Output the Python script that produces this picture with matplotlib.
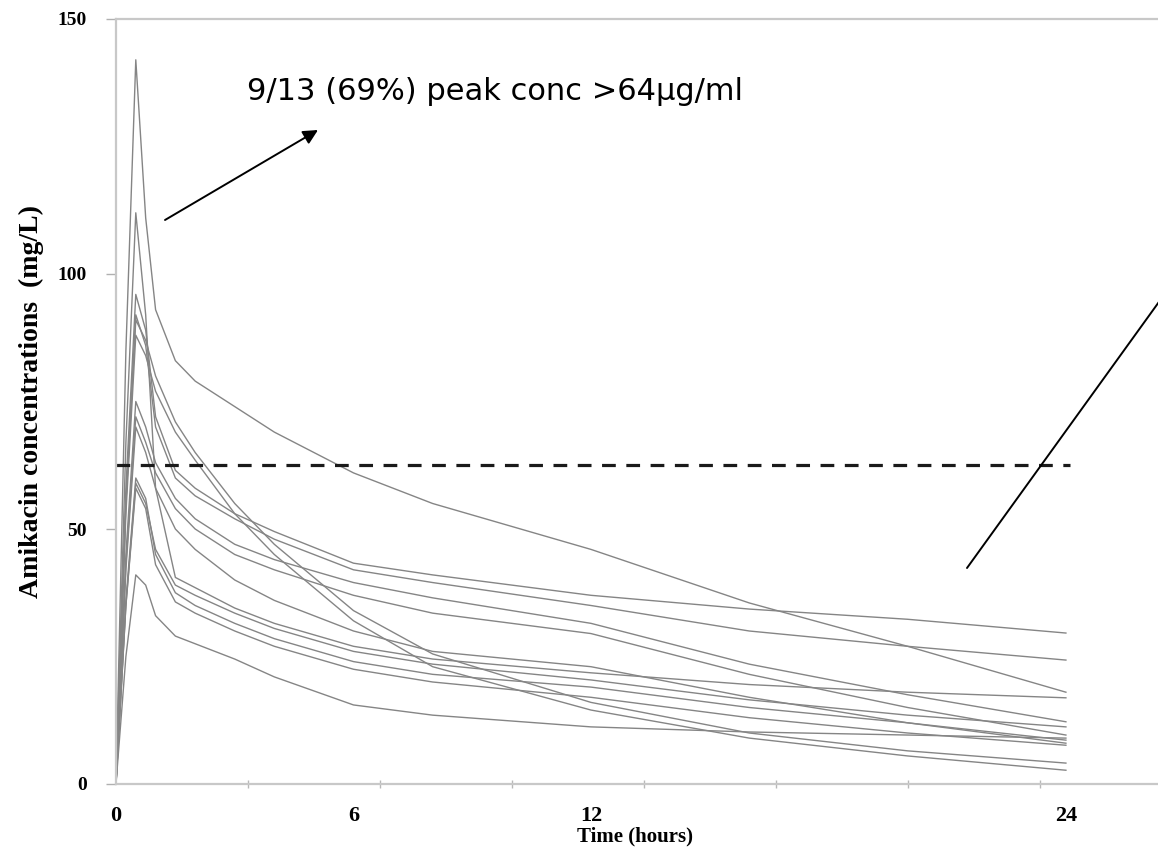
import numpy as np
import matplotlib
matplotlib.use('Agg')
import matplotlib.pyplot as plt

# sampling times (hours) shared by every patient profile
hours = [0, 0.25, 0.5, 0.75, 1, 1.5, 2, 3, 4, 6, 8, 12, 16, 20, 24]

# amikacin concentration (mg/L) per patient
pt01 = [0, 85, 142, 111, 93, 83, 79, 74, 69, 61, 55, 46, 35.5, 27, 18]
pt02 = [0, 58, 96, 89, 72, 61.5, 58, 53, 49.5, 43.3, 41, 37, 34.3, 32.3, 29.6]
pt03 = [0, 55, 92, 86, 70, 60, 56.5, 52, 48, 42, 39.5, 35, 30, 27, 24.3]
pt04 = [0, 55, 91, 87, 80, 71, 65, 55, 47, 34, 25.5, 16, 10, 6.5, 4.1]
pt05 = [0, 53, 88, 84, 77, 69, 63.5, 53, 45, 32, 23, 14.5, 9, 5.5, 2.7]
pt06 = [0, 45, 75, 70, 63, 56, 52, 47, 44, 39.5, 36.5, 31.5, 23.5, 17.5, 12.2]
pt07 = [0, 43, 72, 67, 61, 54, 50, 45, 42, 37, 33.5, 29.5, 21.5, 15, 9.6]
pt08 = [0, 42, 70, 65, 58, 50, 46, 40, 36, 30, 26, 23, 17, 12, 8.0]
pt09 = [0, 67, 112, 92, 58, 40.5, 38.5, 34.5, 31.5, 27, 24.5, 21.8, 19.5, 18, 16.9]
pt10 = [0, 35, 59, 55, 46, 39, 37, 33.5, 30.5, 26, 23.5, 20.4, 16.5, 13.5, 11.2]
pt11 = [0, 36, 60, 56, 45, 37.5, 35, 31.5, 28.5, 24, 21.5, 19, 15, 12, 8.6]
pt12 = [0, 35, 58, 54, 43, 35.7, 33.5, 30, 27, 22.5, 20, 17, 13, 10, 7.6]
pt13 = [0, 25, 41, 39, 33, 29, 27.5, 24.5, 21, 15.5, 13.5, 11.2, 10.2, 9.6, 9.0]
patients = [pt01, pt02, pt03, pt04, pt05, pt06, pt07, pt08, pt09, pt10, pt11, pt12, pt13]

target_conc = 62.5   # dashed threshold line
target_end = 24.1

yticks = [0, 50, 100, 150]
xticks = [0, 6, 12, 24]
note = '9/13 (69%) peak conc >64\u00b5g/ml'

serif = {'family': 'Liberation Serif', 'weight': 'bold'}

fig = plt.figure(figsize=(11.58, 8.49), dpi=100)
ax = fig.add_axes([116 / 1158, 65 / 849, 1084 / 1158, 765 / 849])

for conc in patients:
    ax.plot(hours, conc, color='#858585', lw=1.0)

ax.hlines(target_conc, 0, target_end, colors='#1a1a1a', lw=2.3,
          linestyles=(0, (4.3, 3.3)))

ax.set_xlim(0, 1084 / 39.58)
ax.set_ylim(0, 150)

for side in ['left', 'bottom', 'top']:
    ax.spines[side].set_color('#c8c8c8')
    ax.spines[side].set_linewidth(1.6)
ax.spines['right'].set_visible(False)

ax.set_yticks(yticks)
ax.set_yticklabels([str(v) for v in yticks], fontdict=dict(serif, size=14))
ax.tick_params(axis='y', length=7, width=1, color='#b0b0b0', pad=14)

ax.set_xticks(xticks)
ax.set_xticklabels([str(v) for v in xticks], fontdict=dict(serif, size=16))
ax.set_xticks(np.arange(1, 8) * 10 / 3, minor=True)
ax.tick_params(axis='x', which='major', length=0, pad=16)
ax.tick_params(axis='x', which='minor', length=6, width=1, color='#b8b8b8', direction='inout')

ax.set_xlabel('Time (hours)', fontdict=dict(serif, size=15))
ax.xaxis.set_label_coords(0.479, -0.055)
ax.set_ylabel('Amikacin concentrations  (mg/L)', fontdict=dict(serif, size=20))
ax.yaxis.set_label_coords(-0.066, 0.5)

fig.text(247 / 1158, 1 - 92 / 849, note, fontsize=22, family='DejaVu Sans',
         ha='left', va='center')

ax.annotate('', xy=(318, 719), xytext=(165, 629), xycoords='figure pixels',
            textcoords='figure pixels',
            arrowprops=dict(arrowstyle='-|>', color='black', lw=1.4,
                            shrinkA=0, shrinkB=0, mutation_scale=22))
ax.annotate('', xy=(1200, 604), xytext=(967, 281), xycoords='figure pixels',
            textcoords='figure pixels',
            arrowprops=dict(arrowstyle='-', color='black', lw=1.4,
                            shrinkA=0, shrinkB=0))

fig.savefig('out.png', dpi=100)
